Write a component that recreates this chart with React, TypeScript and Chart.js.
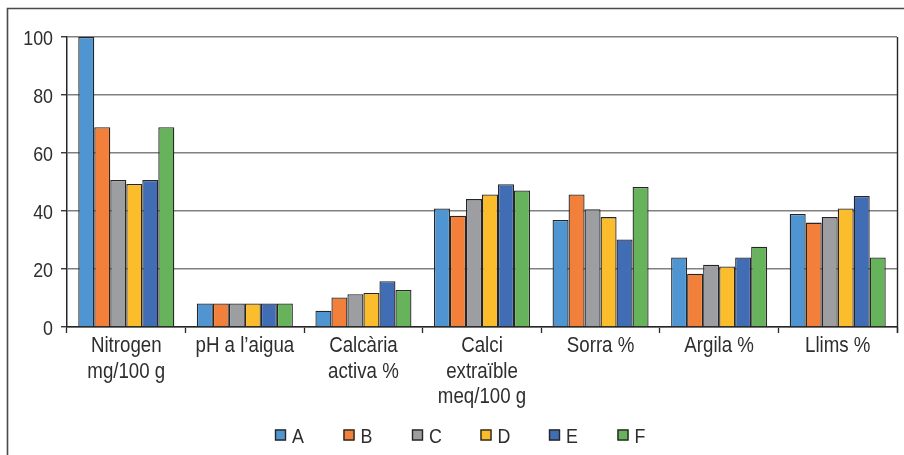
import React, { useEffect, useRef } from "react";
import { Chart, registerables } from "chart.js";

Chart.register(...registerables);

// Soil parameters compared across six plots (A–F)
const categories: (string | string[])[] = [
  ["Nitrogen", "mg/100 g"],
  "pH a l\u2019aigua",
  ["Calcària", "activa %"],
  ["Calci", "extraïble", "meq/100 g"],
  "Sorra %",
  "Argila %",
  "Llims %",
];

const seriesNames = ["A", "B", "C", "D", "E", "F"];

const valuesA = [100, 8.1, 5.6, 40.9, 36.9, 24.0, 39.0];
const valuesB = [68.9, 8.1, 10.2, 38.4, 45.7, 18.4, 36.0];
const valuesC = [50.7, 8.1, 11.3, 44.1, 40.6, 21.5, 37.9];
const valuesD = [49.3, 8.1, 11.7, 45.7, 37.9, 20.9, 40.9];
const valuesE = [50.7, 8.1, 15.8, 49.2, 30.2, 24.0, 45.2];
const valuesF = [68.9, 8.1, 12.8, 47.1, 48.3, 27.7, 24.0];

const yTicks = [0, 20, 40, 60, 80, 100];

const seriesColors = ["#4f95d2", "#f3803a", "#9c9ea2", "#fcbd2c", "#416db5", "#67b35b"];

const FONT = '"Liberation Sans", Arial, sans-serif';
const TEXT = "#2e2e2e";
const EDGE = "#262626";
// horizontal squeeze that gives the labels a condensed face
const NARROW = 0.85;

function narrowText(ctx: CanvasRenderingContext2D, text: string, x: number, y: number, align: "left" | "center" | "right") {
  ctx.save();
  ctx.translate(x, y);
  ctx.scale(NARROW, 1);
  ctx.textAlign = align;
  ctx.fillText(text, 0, 0);
  ctx.restore();
}

// Outer frame, right plot edge, axis labels and the square-swatch legend
const decorations = {
  id: "decorations",
  afterDraw(chart: Chart) {
    const { ctx, chartArea, width, height } = chart;
    const xScale: any = chart.scales.x;
    const yScale: any = chart.scales.y;
    ctx.save();
    // outer frame (top and left edges visible)
    ctx.strokeStyle = "#4a4a4a";
    ctx.lineWidth = 1.6;
    ctx.beginPath();
    ctx.moveTo(7.5, height + 2);
    ctx.lineTo(7.5, 8.5);
    ctx.lineTo(width + 2, 8.5);
    ctx.stroke();

    // right edge of the plot area
    ctx.strokeStyle = EDGE;
    ctx.lineWidth = 1.4;
    ctx.beginPath();
    ctx.moveTo(chartArea.right + 0.5, chartArea.top);
    ctx.lineTo(chartArea.right + 0.5, chartArea.bottom + 6);
    ctx.stroke();

    ctx.fillStyle = TEXT;
    ctx.textBaseline = "alphabetic";

    // y tick labels
    ctx.font = `21px ${FONT}`;
    yTicks.forEach((v) => {
      narrowText(ctx, String(v), chartArea.left - 14, yScale.getPixelForValue(v) + 7.5, "right");
    });

    // category labels
    ctx.font = `22px ${FONT}`;
    categories.forEach((label, i) => {
      const lines = Array.isArray(label) ? label : [label];
      const cx = xScale.getPixelForTick(i);
      lines.forEach((line, j) => {
        narrowText(ctx, line, cx, chartArea.bottom + 25 + j * 25.5, "center");
      });
    });

    // legend
    const step = 68.5;
    const box = 11;
    const startX = chartArea.left + 208;
    const cy = chartArea.bottom + 108;
    ctx.font = `21px ${FONT}`;
    seriesNames.forEach((name, i) => {
      const x = startX + i * step;
      ctx.fillStyle = seriesColors[i];
      ctx.fillRect(x, cy - box / 2, box, box);
      ctx.strokeStyle = EDGE;
      ctx.lineWidth = 1.4;
      ctx.strokeRect(x + 0.5, cy - box / 2 + 0.5, box - 1, box - 1);
      ctx.fillStyle = TEXT;
      narrowText(ctx, name, x + box + 6, cy + 7.5, "left");
    });
    ctx.restore();
  },
};

export default function App() {
  const canvasRef = useRef<HTMLCanvasElement | null>(null);

  useEffect(() => {
    const canvas = canvasRef.current;
    if (!canvas) return;
    const allValues = [valuesA, valuesB, valuesC, valuesD, valuesE, valuesF];
    const chart = new Chart(canvas, {
      type: "bar",
      data: {
        labels: categories,
        datasets: seriesNames.map((name, i) => ({
          label: name,
          data: allValues[i],
          backgroundColor: seriesColors[i],
          borderColor: EDGE,
          borderWidth: 1.3,
          barPercentage: 1,
          categoryPercentage: 0.81,
        })),
      },
      options: {
        responsive: false,
        maintainAspectRatio: false,
        animation: false,
        devicePixelRatio: 1,
        layout: { padding: { left: 0, top: 37, right: 7, bottom: 38 } },
        plugins: {
          legend: { display: false },
          tooltip: { enabled: false },
        },
        scales: {
          x: {
            afterFit(scale: any) {
              scale.height = 90;
            },
            grid: {
              display: true,
              offset: true,
              drawOnChartArea: false,
              tickLength: 6,
              tickColor: EDGE,
              tickWidth: 1.3,
            },
            border: { display: true, color: EDGE, width: 1.5 },
            ticks: { display: false, autoSkip: false },
          },
          y: {
            min: 0,
            max: 100,
            afterFit(scale: any) {
              scale.width = 67;
            },
            afterBuildTicks(scale: any) {
              scale.ticks = yTicks.map((v) => ({ value: v }));
            },
            grid: {
              color: "#808080",
              lineWidth: 1.5,
              tickLength: 6,
              tickColor: EDGE,
              tickWidth: 1.3,
            },
            border: { display: true, color: EDGE, width: 1.5 },
            ticks: { display: false },
          },
        },
      },
      plugins: [decorations],
    });
    return () => chart.destroy();
  }, []);

  return (
    <div style={{ position: "fixed", left: 0, top: 0, width: 904, height: 455, background: "#fff" }}>
      <canvas ref={canvasRef} width={904} height={455} style={{ display: "block", width: 904, height: 455 }} />
    </div>
  );
}
